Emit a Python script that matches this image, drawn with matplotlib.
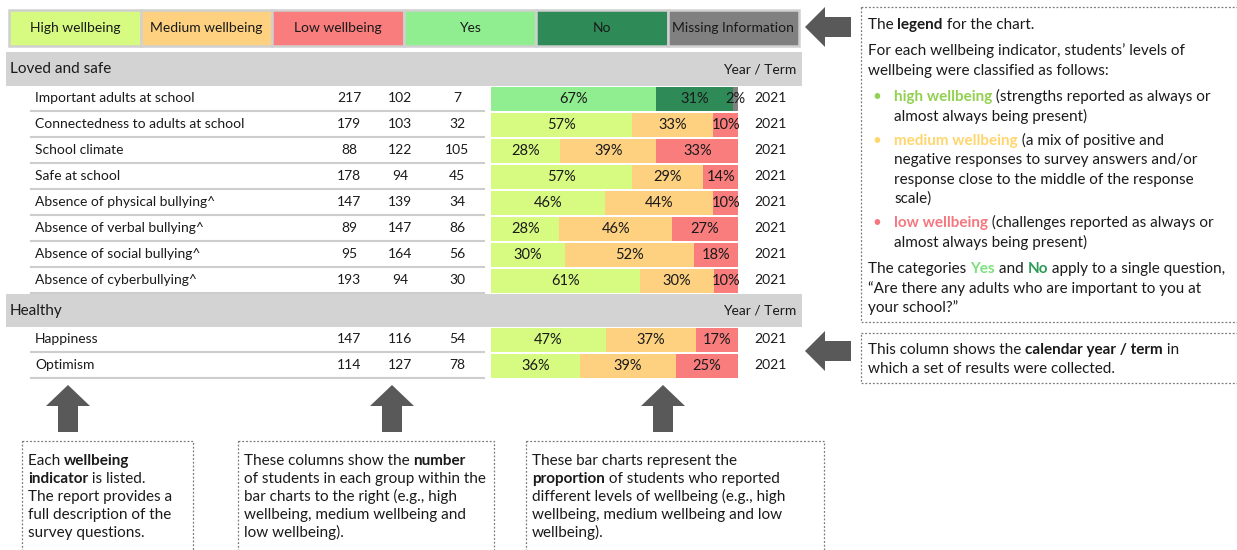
import matplotlib
matplotlib.use('Agg')
import matplotlib.pyplot as plt
from matplotlib.patches import Rectangle, Polygon
import numpy as np

plt.rcParams['font.family'] = ['Lato', 'DejaVu Sans']

# ---------------- data ----------------
legend_labels = ['High wellbeing', 'Medium wellbeing', 'Low wellbeing', 'Yes', 'No', 'Missing Information']
legend_colors = ['#D6FB80', '#FDD180', '#FA7D7D', '#90EE90', '#2E8B57', '#808080']

loved_indicators = ['Important adults at school', 'Connectedness to adults at school', 'School climate',
                    'Safe at school', 'Absence of physical bullying^', 'Absence of verbal bullying^',
                    'Absence of social bullying^', 'Absence of cyberbullying^']
loved_high = [217, 179, 88, 178, 147, 89, 95, 193]
loved_med = [102, 103, 122, 94, 139, 147, 164, 94]
loved_low = [7, 32, 105, 45, 34, 86, 56, 30]
loved_pct_high = [67, 57, 28, 57, 46, 28, 30, 61]
loved_pct_med = [31, 33, 39, 29, 44, 46, 52, 30]
loved_pct_low = [2, 10, 33, 14, 10, 27, 18, 10]
loved_years = ['2021'] * 8
loved_kind = ['yesno'] + ['level'] * 7

healthy_indicators = ['Happiness', 'Optimism']
healthy_high = [147, 114]
healthy_med = [116, 127]
healthy_low = [54, 78]
healthy_pct_high = [47, 36]
healthy_pct_med = [37, 39]
healthy_pct_low = [17, 25]
healthy_years = ['2021', '2021']
healthy_kind = ['level', 'level']

# ---------------- figure ----------------
W, H = 1237, 550
fig = plt.figure(figsize=(W / 100, H / 100), dpi=100)
ax = fig.add_axes([0, 0, 1, 1])
ax.set_xlim(0, W)
ax.set_ylim(H, 0)
ax.axis('off')
renderer = fig.canvas.get_renderer()

TXT = '#1a1a1a'
ARROW = '#595959'
HDR = '#D3D3D3'
LINE = '#CDCDCD'
level_colors = legend_colors[:3]
yesno_colors = legend_colors[3:]


def width_of(s, size, weight):
    t = ax.text(0, 0, s, fontsize=size, fontweight=weight)
    w = t.get_window_extent(renderer).width
    t.remove()
    return w


def rich(x, y, segs, size=11):
    for seg in segs:
        s = seg[0]
        weight = seg[1] if len(seg) > 1 else 'normal'
        color = seg[2] if len(seg) > 2 else TXT
        ax.text(x, y, s, fontsize=size, fontweight=weight, color=color, ha='left', va='baseline')
        x += width_of(s + '|', size, weight) - width_of('|', size, weight)


# ---------------- legend row ----------------
LEG_X0, LEG_Y0, LEG_Y1, LEG_W = 9, 10, 46, 131.7
for i, (lab, col) in enumerate(zip(legend_labels, legend_colors)):
    x0 = LEG_X0 + i * LEG_W
    ax.add_patch(Rectangle((x0, LEG_Y0), LEG_W, LEG_Y1 - LEG_Y0, facecolor=col, edgecolor='#D0D0D0', lw=1.8))
    ax.text(x0 + LEG_W / 2, (LEG_Y0 + LEG_Y1) / 2, lab, ha='center', va='center', fontsize=10, color=TXT)

# ---------------- table sections ----------------
ROW_H = 26
COL_X = [349, 400, 457]
BAR_X0, BAR_X1 = 491, 738
YEAR_X = 770


def section(title, htop, hbot, names, hi, me, lo, ph, pm, pl, yrs, kinds):
    ax.add_patch(Rectangle((6, htop), 796, hbot - htop, facecolor=HDR, edgecolor='none'))
    ax.text(10, (htop + hbot) / 2, title, fontsize=11, va='center', ha='left', color=TXT)
    ax.text(796, (htop + hbot) / 2, 'Year / Term', fontsize=10, va='center', ha='right', color=TXT)
    n = len(names)
    for i in range(n):
        yc = hbot + (i + 0.5) * ROW_H - 1
        ax.text(35, yc, names[i], fontsize=10, va='center', ha='left', color=TXT)
        for cx, v in zip(COL_X, (hi[i], me[i], lo[i])):
            ax.text(cx, yc, str(v), fontsize=10, va='center', ha='center', color=TXT)
        ax.text(YEAR_X, yc, yrs[i], fontsize=10, va='center', ha='center', color=TXT)
        ax.plot([31, 484], [hbot + (i + 1) * ROW_H - 1] * 2, color=LINE, lw=1.5)
    # bars
    bx = fig.add_axes([BAR_X0 / W, 1 - (hbot + n * ROW_H) / H, (BAR_X1 - BAR_X0) / W, n * ROW_H / H])
    bx.set_xlim(0, 100)
    bx.set_ylim(n - 0.5, -0.5)
    bx.axis('off')
    for i in range(n):
        vals = np.array([ph[i], pm[i], pl[i]], dtype=float)
        widths = vals / vals.sum() * 100
        lefts = np.concatenate([[0], np.cumsum(widths)[:-1]])
        cols = yesno_colors if kinds[i] == 'yesno' else level_colors
        bx.barh([i] * 3, widths, left=lefts, height=0.9, color=cols, edgecolor='none')
        for l, w, v in zip(lefts, widths, vals):
            bx.text(l + w / 2, i, f'{int(v)}%', ha='center', va='center', fontsize=10.5, color=TXT,
                    clip_on=False)


section('Loved and safe', 52, 86, loved_indicators, loved_high, loved_med, loved_low,
        loved_pct_high, loved_pct_med, loved_pct_low, loved_years, loved_kind)
section('Healthy', 294, 327, healthy_indicators, healthy_high, healthy_med, healthy_low,
        healthy_pct_high, healthy_pct_med, healthy_pct_low, healthy_years, healthy_kind)

# ---------------- arrows ----------------
def left_arrow(tip_x, yc):
    pts = [(tip_x, yc), (tip_x + 20, yc - 20), (tip_x + 20, yc - 10), (tip_x + 46, yc - 10),
           (tip_x + 46, yc + 10), (tip_x + 20, yc + 10), (tip_x + 20, yc + 20)]
    ax.add_patch(Polygon(pts, closed=True, facecolor=ARROW, edgecolor='none'))


def up_arrow(cx, tip_y):
    pts = [(cx, tip_y), (cx + 22, tip_y + 21), (cx + 10, tip_y + 21), (cx + 10, tip_y + 47),
           (cx - 10, tip_y + 47), (cx - 10, tip_y + 21), (cx - 22, tip_y + 21)]
    ax.add_patch(Polygon(pts, closed=True, facecolor=ARROW, edgecolor='none'))


left_arrow(805, 27)
left_arrow(805, 351)
for cx in (68, 392, 663):
    up_arrow(cx, 385)

# ---------------- dotted boxes ----------------
def dbox(x0, y0, x1, y1):
    ax.add_patch(Rectangle((x0, y0), x1 - x0, y1 - y0, facecolor='none', edgecolor='#7a7a7a',
                           lw=0.9, linestyle=(0, (1.5, 1.5))))


dbox(861, 7, 1245, 322)
dbox(861, 333, 1245, 383)
dbox(22, 441, 193, 560)
dbox(238, 441, 494, 560)
dbox(526, 441, 824, 560)

# ---------------- explanatory text ----------------
G_HIGH = '#92D050'
G_MED = '#FFD56E'
G_LOW = '#F4777F'
G_YES = '#7CE07C'
G_NO = '#2E9B57'
FS = 11
B = 'bold'
N = 'normal'
RX, BX, IX = 868, 877, 894
off = 5
rich(RX, 24 + off, [('The ', N), ('legend', B), (' for the chart.', N)], FS)
rich(RX, 50 + off, [('For each wellbeing indicator, students’ levels of', N)], FS)
rich(RX, 70 + off, [('wellbeing were classified as follows:', N)], FS)
for yc, col, word, rest in [(96, G_HIGH, 'high wellbeing', ' (strengths reported as always or'),
                            (140, G_MED, 'medium wellbeing', ' (a mix of positive and'),
                            (222, G_LOW, 'low wellbeing', ' (challenges reported as always or')]:
    ax.text(BX, yc + off, '•', fontsize=FS, color=col, ha='center', va='baseline')
    rich(IX, yc + off, [(word, B, col), (rest, N)], FS)
for yc, s in [(116, 'almost always being present)'), (159, 'negative responses to survey answers and/or'),
              (179, 'response close to the middle of the response'), (198, 'scale)'),
              (242, 'almost always being present)')]:
    rich(IX, yc + off, [(s, N)], FS)
rich(RX, 268 + off, [('The categories ', N), ('Yes', B, G_YES), (' and ', N), ('No', B, G_NO),
                     (' apply to a single question,', N)], FS)
rich(RX, 288 + off, [('“Are there any adults who are important to you at', N)], FS)
rich(RX, 307 + off, [('your school?”', N)], FS)
rich(RX, 349 + off, [('This column shows the ', N), ('calendar year / term', B), (' in', N)], FS)
rich(RX, 368 + off, [('which a set of results were collected.', N)], FS)

LINE_Y = [460, 478, 496, 514, 532]
box_texts = [
    (28, [[('Each ', N), ('wellbeing', B)], [('indicator', B), (' is listed.', N)],
          [('The report provides a', N)], [('full description of the', N)], [('survey questions.', N)]]),
    (244, [[('These columns show the ', N), ('number', B)], [('of students in each group within the', N)],
           [('bar charts to the right (e.g., high', N)], [('wellbeing, medium wellbeing and', N)],
           [('low wellbeing).', N)]]),
    (532, [[('These bar charts represent the', N)], [('proportion', B), (' of students who reported', N)],
           [('different levels of wellbeing (e.g., high', N)], [('wellbeing, medium wellbeing and low', N)],
           [('wellbeing).', N)]]),
]
for x, lines in box_texts:
    for yc, segs in zip(LINE_Y, lines):
        rich(x, yc + off, segs, FS)

fig.savefig('out.png', dpi=100)
